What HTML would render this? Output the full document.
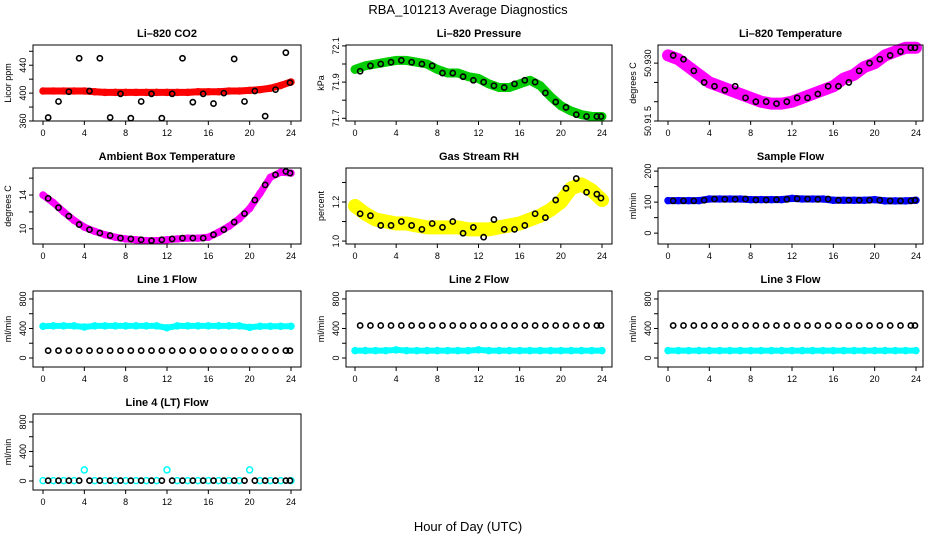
<!DOCTYPE html>
<html><head><meta charset="utf-8"><style>
body{margin:0;background:#fff;}
svg{display:block;font-family:"Liberation Sans",sans-serif;}
</style></head><body>
<svg id="c" width="936" height="540">
<text x="468" y="14" text-anchor="middle" font-size="13">RBA_101213  Average Diagnostics</text>
<text x="468" y="531" text-anchor="middle" font-size="13">Hour of Day (UTC)</text>
</svg>
<script>
// hours for black average points
const blackHours=[0.5,1.5,2.5,3.5,4.5,5.5,6.5,7.5,8.5,9.5,10.5,11.5,12.5,13.5,14.5,15.5,16.5,17.5,18.5,19.5,20.5,21.5,22.5,23.5,23.9];
// hours for colored raw series
const rawHours=[0,1,2,3,4,5,6,7,8,9,10,11,12,13,14,15,16,17,18,19,20,21,22,23,24];

const co2Raw=[403,403,403,403,403,402,401,401,401,401,401,401,401,401,401,402,402,402,403,403,404,405,407,411,416];
const co2Black=[365,388,402,450,403,450,365,399,364,388,399,364,399,450,387,399,385,400,449,388,403,367,405,458,415];
const presRaw=[71.97,71.99,72.0,72.01,72.02,72.02,72.01,72.0,71.97,71.95,71.95,71.93,71.92,71.89,71.87,71.87,71.89,71.91,71.88,71.82,71.77,71.74,71.72,71.71,71.71];
const presBlack=[71.96,71.99,72.0,72.01,72.02,72.01,72.0,71.99,71.95,71.95,71.93,71.91,71.9,71.88,71.87,71.89,71.91,71.9,71.84,71.79,71.76,71.72,71.71,71.71,71.71];
const tempRaw=[50.932,50.931,50.929,50.927,50.925,50.924,50.923,50.922,50.921,50.920,50.9195,50.9195,50.920,50.921,50.922,50.923,50.924,50.926,50.927,50.929,50.930,50.932,50.933,50.934,50.934];
const tempBlack=[50.932,50.931,50.928,50.925,50.924,50.923,50.924,50.921,50.920,50.920,50.9195,50.920,50.921,50.921,50.922,50.924,50.924,50.925,50.928,50.930,50.931,50.932,50.933,50.934,50.934];
const ambRaw=[14.0,13.1,12.0,11.0,10.2,9.7,9.3,9.0,8.8,8.7,8.6,8.6,8.7,8.8,8.9,8.9,9.0,9.6,10.3,11.2,12.4,14.2,16.1,16.7,16.6];
const ambBlack=[13.6,12.5,11.5,10.5,9.9,9.5,9.2,8.9,8.8,8.7,8.6,8.7,8.8,8.9,8.9,8.9,9.3,9.9,10.8,11.8,13.4,15.2,16.4,16.8,16.6];
const rhRaw=[1.18,1.14,1.11,1.10,1.09,1.09,1.08,1.07,1.07,1.07,1.07,1.06,1.06,1.06,1.07,1.08,1.09,1.11,1.13,1.16,1.20,1.27,1.29,1.26,1.21];
const rhBlack=[1.14,1.13,1.08,1.08,1.10,1.08,1.06,1.09,1.07,1.10,1.04,1.07,1.02,1.11,1.06,1.06,1.08,1.14,1.12,1.21,1.27,1.32,1.25,1.24,1.22];
const sfRaw=[105,105,105,105,110,110,110,110,108,108,108,108,112,110,110,110,106,106,106,106,108,104,104,104,106];
const sfBlack=[104,104,104,106,110,109,109,110,107,107,108,109,111,110,109,110,106,106,106,106,106,104,104,104,106];
const l1Cyan=[430,435,435,435,420,435,435,435,435,435,435,435,410,435,435,435,435,435,435,435,415,430,430,430,430];
const l1Black=[100,100,100,100,100,100,100,100,100,100,100,100,100,100,100,100,100,100,100,100,100,100,100,100,100];
const l2Cyan=[100,100,100,100,110,100,100,100,100,100,100,100,110,100,100,100,100,100,100,100,100,100,100,100,100];
const l2Black=[440,440,440,440,440,440,440,440,440,440,440,440,440,440,440,440,440,440,440,440,440,440,440,440,440];
const l3Cyan=[100,100,100,100,100,100,100,100,100,100,100,100,100,100,100,100,100,100,100,100,100,100,100,100,100];
const l3Black=[440,440,440,440,440,440,440,440,440,440,440,440,440,440,440,440,440,440,440,440,440,440,440,440,440];
const l4Cyan=[5,5,5,5,150,5,5,5,5,5,5,5,150,5,5,5,5,5,5,5,150,5,5,5,5];
const l4Black=[5,5,5,5,5,5,5,5,5,5,5,5,5,5,5,5,5,5,5,5,5,5,5,5,5];
const xTicks=[0,4,8,12,16,20,24];

const NS="http://www.w3.org/2000/svg";
const svg=document.getElementById('c');
function mk(t,a,p){const e=document.createElementNS(NS,t);for(const k in a)e.setAttribute(k,a[k]);(p||svg).appendChild(e);return e;}
const colL=[33,346,658],colR=[301,612,923],x0=[43,355,668],x24=[291,602,916];
const rowT=[45,168,291,414],H=76;

function panel(id,col,row,title,ylab,ymin,ymax,ticks,labels,color,bw,raw,blk){
  const g=mk('g',{});
  
  
  const L=colL[col],R=colR[col],T=rowT[row],B=T+H;
  const X=h=>x0[col]+(x24[col]-x0[col])*h/24;
  const Y=v=>B-(v-ymin)/(ymax-ymin)*H;
  const t=mk('text',{x:(L+R)/2,y:T-8,'text-anchor':'middle','font-size':11,'font-weight':'bold'},g);t.textContent=title;
  
  const yl=mk('text',{transform:`translate(${L-22},${(T+B)/2}) rotate(-90)`,'text-anchor':'middle','font-size':9},g);yl.textContent=ylab;
  
  if(bw>0){
    const pts=rawHours.map((h,i)=>X(h)+','+Y(raw[i])).join(' ');
    const band=mk('polyline',{points:pts,fill:'none',stroke:color,'stroke-width':bw,'stroke-linejoin':'round','stroke-linecap':'round'},g);
    
  }
  rawHours.forEach((h,i)=>{const c=mk('circle',{cx:X(h),cy:Y(raw[i]),r:3,fill:'none',stroke:color,'stroke-width':1.5},g);
    });
  blackHours.forEach((h,i)=>{const c=mk('circle',{cx:X(h),cy:Y(blk[i]),r:2.6,fill:'none',stroke:'#000','stroke-width':1.6},g);
    });
  const box=mk('rect',{x:L,y:T,width:R-L,height:H,fill:'none',stroke:'#000','stroke-width':1},g);
  
  xTicks.forEach(v=>{mk('line',{x1:X(v),x2:X(v),y1:B,y2:B+4,stroke:'#000'},g);
    const tx=mk('text',{x:X(v),y:B+15,'text-anchor':'middle','font-size':9},g);tx.textContent=v;
    });
  ticks.forEach((v,i)=>{const y=Y(v);if(y<T-1||y>B+1)return;mk('line',{x1:L-4,x2:L,y1:y,y2:y,stroke:'#000'},g);
    if(labels[i]!==''){const tx=mk('text',{transform:`translate(${L-7},${y}) rotate(-90)`,'text-anchor':'middle','font-size':9},g);tx.textContent=labels[i];
    }});
}
const fl=[0,200,400,600,800],fll=['0','','400','','800'];
panel('co2',0,0,'Li\u2013820 CO2','Licor ppm',360,469,[360,380,400,420,440,460],['360','','400','','440',''],'#f00',7,co2Raw,co2Black);
panel('pressure',1,0,'Li\u2013820 Pressure','kPa',71.685,72.105,[71.7,71.8,71.9,72.0,72.1],['71.7','','71.9','','72.1'],'#00cc00',9,presRaw,presBlack);
panel('temperature',2,0,'Li\u2013820 Temperature','degrees C',50.915,50.9347,[50.915,50.92,50.925,50.93],['50.91 5','','','50.930'],'#f0f',12,tempRaw,tempBlack);
panel('ambient',0,1,'Ambient Box Temperature','degrees C',8.2,17.2,[10,12,14,16],['10','','14',''],'#f0f',7,ambRaw,ambBlack);
panel('rh',1,1,'Gas Stream RH','percent',0.985,1.374,[1.0,1.1,1.2,1.3],['1.0','','1.2',''],'#ffff00',14,rhRaw,rhBlack);
panel('sample-flow',2,1,'Sample Flow','ml/min',-35,210,[0,50,100,150,200],['0','','100','','200'],'#0000ff',7,sfRaw,sfBlack);
panel('line1',0,2,'Line 1 Flow','ml/min',-122,908,fl,fll,'#00ffff',6,l1Cyan,l1Black);
panel('line2',1,2,'Line 2 Flow','ml/min',-122,908,fl,fll,'#00ffff',6,l2Cyan,l2Black);
panel('line3',2,2,'Line 3 Flow','ml/min',-122,908,fl,fll,'#00ffff',6,l3Cyan,l3Black);
panel('line4',0,3,'Line 4 (LT) Flow','ml/min',-122,908,fl,fll,'#00ffff',0,l4Cyan,l4Black);
</script>
</body></html>
